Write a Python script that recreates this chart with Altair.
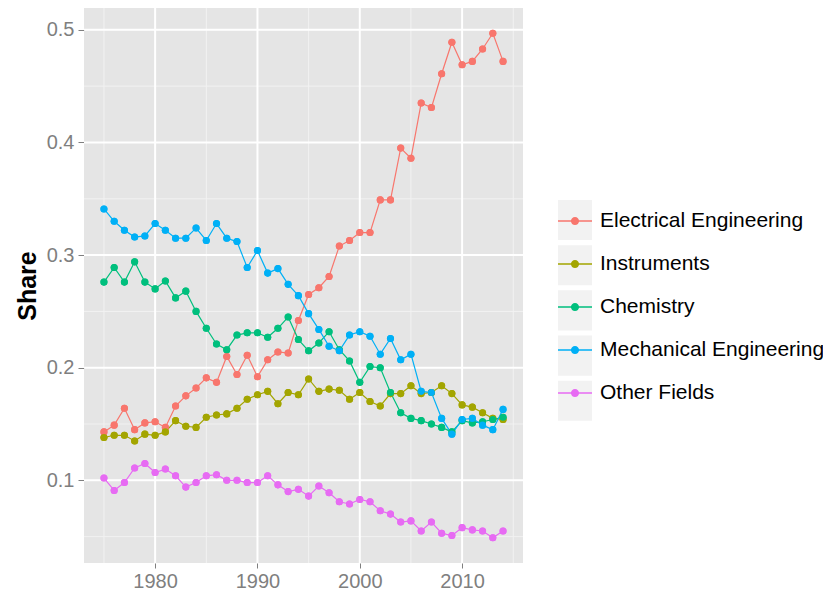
import altair as alt
import pandas as pd

years = list(range(1975, 2015))
fields = ["Electrical Engineering", "Instruments", "Chemistry",
          "Mechanical Engineering", "Other Fields"]
colors = ["#F8766D", "#A3A500", "#00BF7D", "#00B0F6", "#E76BF3"]

electrical = [0.143, 0.149, 0.164, 0.145, 0.151, 0.152, 0.147, 0.166, 0.175, 0.182,
              0.191, 0.187, 0.210, 0.194, 0.211, 0.192, 0.207, 0.214, 0.213, 0.242,
              0.265, 0.271, 0.281, 0.308, 0.313, 0.320, 0.320, 0.349, 0.349, 0.395,
              0.386, 0.435, 0.431, 0.461, 0.489, 0.469, 0.472, 0.483, 0.497, 0.472]
instruments = [0.138, 0.140, 0.140, 0.135, 0.141, 0.140, 0.143, 0.153, 0.148, 0.147,
               0.156, 0.158, 0.159, 0.164, 0.172, 0.176, 0.179, 0.168, 0.178, 0.176,
               0.190, 0.179, 0.181, 0.180, 0.172, 0.178, 0.170, 0.166, 0.177, 0.177,
               0.184, 0.177, 0.178, 0.184, 0.177, 0.167, 0.165, 0.160, 0.155, 0.154]
chemistry = [0.276, 0.289, 0.276, 0.294, 0.276, 0.270, 0.277, 0.262, 0.268, 0.250,
             0.235, 0.221, 0.216, 0.229, 0.231, 0.231, 0.227, 0.235, 0.245, 0.225,
             0.215, 0.222, 0.232, 0.216, 0.206, 0.187, 0.201, 0.200, 0.178, 0.160,
             0.155, 0.153, 0.150, 0.147, 0.143, 0.153, 0.151, 0.152, 0.154, 0.156]
mechanical = [0.341, 0.330, 0.322, 0.316, 0.317, 0.328, 0.322, 0.315, 0.315, 0.324,
              0.313, 0.328, 0.315, 0.312, 0.289, 0.304, 0.284, 0.288, 0.274, 0.264,
              0.248, 0.234, 0.219, 0.215, 0.229, 0.232, 0.228, 0.212, 0.226, 0.207,
              0.212, 0.179, 0.178, 0.155, 0.141, 0.154, 0.155, 0.149, 0.145, 0.163]
other = [0.102, 0.091, 0.098, 0.111, 0.115, 0.107, 0.110, 0.104, 0.094, 0.098,
         0.104, 0.105, 0.100, 0.100, 0.098, 0.098, 0.104, 0.096, 0.090, 0.092,
         0.086, 0.095, 0.089, 0.081, 0.079, 0.083, 0.081, 0.073, 0.070, 0.063,
         0.064, 0.055, 0.063, 0.053, 0.051, 0.058, 0.056, 0.055, 0.049, 0.055]

y_ticks = [0.1, 0.2, 0.3, 0.4, 0.5]
x_ticks = [1980, 1990, 2000, 2010]
minor_y = [0.05, 0.15, 0.25, 0.35, 0.45]
minor_x = [1975, 1985, 1995, 2005, 2015]
key_ids = [1, 2, 3, 4, 5]

series = [electrical, instruments, chemistry, mechanical, other]
rows = []
for f, k, vals in zip(fields, key_ids, series):
    for yr, v in zip(years, vals):
        rows.append({"year": yr, "share": v, "field": f, "key": k})
df = pd.DataFrame(rows)

all_vals = [v for s in series for v in s]
ypad = 0.05 * (max(all_vals) - min(all_vals))
xpad = 0.05 * (max(years) - min(years))
xscale = alt.Scale(domain=[min(years) - xpad, max(years) + xpad], nice=False, zero=False)
yscale = alt.Scale(domain=[min(all_vals) - ypad, max(all_vals) + ypad], nice=False, zero=False)

FONT = "Liberation Sans"
GREY = "#7F7F7F"

# legend key: a line with a dot, drawn as filled shapes
KEY = ("M-1,-0.05H-0.2V0.05H-1Z M0.2,-0.05H1V0.05H0.2Z "
       "M0.24,0A0.24,0.24,0,1,1,-0.24,0A0.24,0.24,0,1,1,0.24,0Z")
BOX = "M-1,-1.18H1V1.18H-1Z"

legend = alt.Legend(
    title=None, orient="none", legendX=474, legendY=196, zindex=2,
    symbolType=KEY, symbolSize=1156, symbolStrokeWidth=0, symbolOpacity=1,
    labelFontSize=21, labelFont=FONT, labelColor="black", labelOffset=8,
    labelLimit=400, rowPadding=16,
)
box_legend = alt.Legend(
    title=None, orient="none", legendX=474, legendY=195, zindex=1,
    symbolSize=1156, symbolStrokeWidth=0, symbolOpacity=1,
    labelExpr="''", labelFontSize=12, rowPadding=3.2,
)

color = alt.Color("field:N", scale=alt.Scale(domain=fields, range=colors),
                  sort=fields, legend=legend)
shape = alt.Shape("key:O", scale=alt.Scale(domain=key_ids, range=[BOX] * len(key_ids)),
                  legend=box_legend)

x_enc = alt.X("year:Q", scale=xscale,
              axis=alt.Axis(values=x_ticks, format="d", grid=False, domain=False,
                            title=None, labelFontSize=20, labelFont=FONT,
                            labelColor=GREY, tickColor=GREY, tickSize=5,
                            labelPadding=3))
y_enc = alt.Y("share:Q", scale=yscale,
              axis=alt.Axis(values=y_ticks, format=".1f", grid=False, domain=False,
                            title="Share", titleFont=FONT, titleFontSize=25,
                            titleFontWeight="bold", titleColor="black", titlePadding=6,
                            labelFontSize=20, labelFont=FONT, labelColor=GREY,
                            tickColor=GREY, tickSize=6, labelPadding=4))

minor_h = alt.Chart(pd.DataFrame({"share": minor_y})).mark_rule(
    color="#F2F2F2", strokeWidth=1).encode(y=y_enc)
minor_v = alt.Chart(pd.DataFrame({"year": minor_x})).mark_rule(
    color="#F2F2F2", strokeWidth=1).encode(x=x_enc)
major_h = alt.Chart(pd.DataFrame({"share": y_ticks})).mark_rule(
    color="white", strokeWidth=2).encode(y=y_enc)
major_v = alt.Chart(pd.DataFrame({"year": x_ticks})).mark_rule(
    color="white", strokeWidth=2).encode(x=x_enc)

base = alt.Chart(df)
keys = base.mark_point(filled=True, color="#F2F2F2", opacity=0, size=10).encode(
    x=x_enc, y=y_enc, shape=shape)
lines = base.mark_line(strokeWidth=1.2).encode(x=x_enc, y=y_enc, color=color)
points = base.mark_point(filled=True, size=50, opacity=1).encode(x=x_enc, y=y_enc, color=color)

chart = alt.layer(minor_h, minor_v, major_h, major_v, keys, points, lines, points).properties(
    width=439, height=555,
    autosize=alt.AutoSizeParams(type="none"),
    padding={"left": 76, "top": 0, "right": 300, "bottom": 29},
).configure_view(fill="#E5E5E5", stroke=None)

chart.save("out.html", embed_options={"renderer": "svg", "actions": False})
